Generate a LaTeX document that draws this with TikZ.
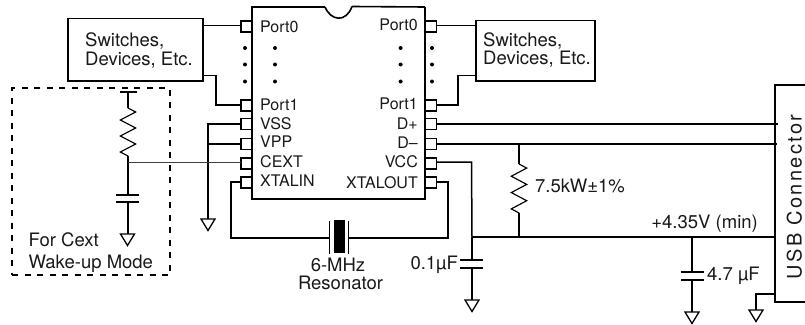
\documentclass[tikz,border=0pt]{standalone}
\usepackage{fontspec}
\setmainfont{TeX Gyre Heros}
\newfontfamily\usbfont[LetterSpace=12]{TeX Gyre Heros}
\tikzset{
  x=1pt,y=-1pt,
  wire/.style={line width=1.5pt,line join=miter},
  zigw/.style={line width=1.15pt,line join=miter},
  thinwire/.style={line width=0.9pt,black!75},
  pin/.style={draw,line width=1.4pt,minimum width=11pt,minimum height=11pt,inner sep=0pt,outer sep=0pt},
  swbox/.style={draw,line width=1.5pt,inner sep=0pt,outer sep=0pt},
  lab/.style={font=\fontsize{18.5}{19}\selectfont,inner sep=0pt,text=black!90},
  portl/.style={font=\fontsize{16}{17}\selectfont,inner sep=0pt,anchor=base west,text=black!90},
  portr/.style={font=\fontsize{16}{17}\selectfont,inner sep=0pt,anchor=base east,text=black!90},
  dotm/.style={circle,fill=black,minimum size=4pt,inner sep=0pt},
  gndt/.style={line width=1.3pt,line join=miter,fill=white},
  pics/gnd/.style={code={\draw[gndt] (-7,0) -- (7,0) -- (0,11.5) -- cycle;}}
}
\newcommand{\zigzag}[3]{% x, y start, pitch
  \draw[zigw] (#1,#2) -- ++(7.7,#3) -- ++(-15.4,2*#3) -- ++(15.4,2*#3) -- ++(-15.4,2*#3) -- ++(15.4,2*#3) -- ++(-15.4,2*#3) -- ++(7.7,#3);}
\begin{document}
\begin{tikzpicture}
\useasboundingbox (0,0) rectangle (805,324);
% chip
\draw[line width=2.8pt,line join=miter] (325,7) -- (252,7) -- (252,199) -- (425,199) -- (425,7);
\draw[line width=1.6pt] (425,7) -- (352,6.5);
\draw[line width=1.6pt] (325,7) .. controls (331,21) and (346,23) .. (352,6.5);
% pins
\foreach \n/\yy in {p0/26.5,p1/105.5,a/124,b/144,c/163.5,d/182.5}{
  \node[pin] (l\n) at (246.5,\yy) {};
  \node[pin] (r\n) at (431,\yy) {};
}
% boxes
\node[swbox,minimum width=135pt,minimum height=62.5pt] (lbox) at (135.5,49.5) {};
\node[swbox,minimum width=119pt,minimum height=60.5pt] (rbox) at (535.5,50.5) {};
\node[lab,anchor=base west,align=left] (lt1) at (85,46) {Switches,};
\node[lab,anchor=base west] (lt2) at (85,65) {Devices, Etc.};
\node[lab,anchor=base west] (rt1) at (483,46) {Switches,};
\node[lab,anchor=base west] (rt2) at (483,64) {Devices, Etc.};
% labels in chip
\node[portl] (n1) at (260,32) {Port0};
\node[portl] (n2) at (260,110) {Port1};
\node[portl] (n3) at (260,129.3) {VSS};
\node[portl] (n4) at (260,147.7) {VPP};
\node[portl] (n5) at (260,167.7) {CEXT};
\node[portl] (n6) at (260,186.7) {XTALIN};
\node[portr] (m1) at (418,30) {Port0};
\node[portr] (m2) at (418,109) {Port1};
\node[portr] (m3) at (418,129) {D+};
\node[portr] (m4) at (418,148) {D–};
\node[portr] (m5) at (418,167) {VCC};
\node[portr] (m6) at (418,188) {XTALOUT};
% dots
\foreach \xx/\t in {245/a,275/b,400.6/c,432/d}
  \foreach \yy/\s in {48/1,64.5/2,81.5/3}
    \node[dotm] (dot\t\s) at (\xx,\yy) {};
% wires top
\coordinate (lw0) at (203,25.5);
\coordinate (rw0) at (476,25.5);
\draw[wire] (lbox.east |- lw0) -- (lw0 -| lp0.west);
\draw[wire] (rp0.east |- rw0) -- (rbox.west |- rw0);
\coordinate (lb1) at (203,75.5);
\coordinate (rb1) at (476,75.5);
\draw[wire] (lb1) -- (216,75.5) -- (216,105) -- (lp1.west |- 0,105);
\draw[wire] (rp1.east |- 0,105) -- (458,105) -- (458,75.5) -- (rb1);
% VSS VPP ground
\coordinate (gj) at (208,124);
\coordinate (g1) at (208,219);
\draw[wire] (la.west |- gj) -- (gj) -- (g1);
\draw[wire] (lb.west |- 0,144) -- (208,144);
\pic at (g1) {gnd};
% dashed box
\node[draw,dashed,line width=1.4pt,dash pattern=on 6pt off 6.5pt,minimum width=158pt,minimum height=187pt,inner sep=0pt] (dbox) at (91,181.5) {};
\node[lab,anchor=base west] (fc) at (28.5,246) {For Cext};
\node[lab,anchor=base west] (wm) at (28.5,268) {Wake-up Mode};
% CEXT branch
\coordinate (rt) at (128,92);
\coordinate (rs) at (128,108);
\draw[wire] (120,92) -- (137,92);
\draw[wire] (rt) -- (rs);
\zigzag{128}{108}{4}
\coordinate (cj) at (128,162.7);
\draw[wire] (128,156) -- (cj) -- (128,195);
\draw[thinwire] (cj) -- (lc.west |- cj);
\draw[wire] (116,195) -- (139,195);
\draw[wire] (116,202) -- (139,202);
\coordinate (g2) at (127.5,234);
\draw[wire] (128,202) -- (128,234);
\pic at (g2) {gnd};
% resonator
\coordinate (x1) at (329.5,238);
\coordinate (x2) at (348.5,238);
\draw[wire] (ld.west |- 0,182) -- (231,182) -- (231,238) -- (x1);
\draw[wire] (rd.east |- 0,182) -- (448,182) -- (448,238) -- (x2);
\draw[wire] (329.5,221) -- (329.5,254);
\draw[wire] (348.5,221) -- (348.5,254);
\node[fill=black,minimum width=11pt,minimum height=33pt,inner sep=0pt] (xtal) at (339.5,236.5) {};
\node[lab,anchor=base] (xa) at (338,271) {6-MHz};
\node[lab,anchor=base] (xb) at (340.5,289) {Resonator};
% VCC
\coordinate (vj) at (472,237);
\coordinate (g3) at (472,300);
\draw[wire] (rc.east |- 0,162) -- (471.5,162) -- (vj);
\draw[wire] (vj) -- (472,260);
\draw[wire] (460,260) -- (483,260);
\draw[wire] (460,268) -- (483,268);
\draw[wire] (472,268) -- (g3);
\pic at (g3) {gnd};
\node[lab,anchor=base east] (c1) at (458,269) {0.1µF};
% USB
\draw[line width=1.5pt] (805,85) -- (775,85) -- (775,302) -- (805,302);
\coordinate (ub) at (775,237);
\draw[wire] (vj) -- (ub);
\draw[wire] (rb.east |- 0,124) -- (778,124);
\draw[wire] (rb.east |- 0,144) -- (777,144);
\node[rotate=90,font=\usbfont\fontsize{20}{21}\selectfont,inner sep=0pt,anchor=base,text=black!90] (usb) at (801.5,197) {USB Connector};
% pull up
\draw[wire] (519,144) -- (519,164);
\zigzag{519}{164}{4.08}
\draw[wire] (519,213) -- (519,237);
\node[lab,anchor=base west] (r1) at (535,192) {7.5kW±1\%};
\node[lab,anchor=base east] (vm) at (758,228) {+4.35V (min)};
% 4.7uF
\coordinate (g4) at (692,312);
\draw[wire] (692,237) -- (692,272);
\draw[wire] (681,272) -- (704,272);
\draw[wire] (681,280) -- (704,280);
\draw[wire] (692,280) -- (g4);
\pic at (g4) {gnd};
\node[lab,anchor=base west] (c2) at (707,280) {4.7 µF};
% usb ground
\coordinate (g5) at (756,310);
\draw[wire] (775,294) -- (756,294) -- (g5);
\pic at (g5) {gnd};
\end{tikzpicture}
\end{document}
